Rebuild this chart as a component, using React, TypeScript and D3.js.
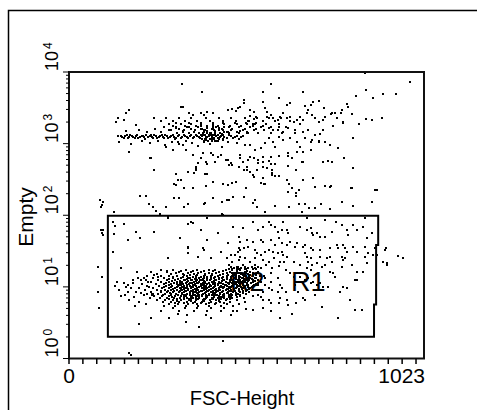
import React from "react";
import * as d3 from "d3";

// FSC-Height channel (0-1023) and "Empty" log channel (0-1023, 256 channels per decade)
const upperStreak: [number, number][] = [
  [149,795],[158,788],[167,799],[172,792],[181,795],[190,788],[195,799],[204,792],[213,795],[218,784],[227,792],[236,799],[241,788],[250,795],[259,792],[267,799],[273,788],[282,795],[290,792],[299,799],[305,784],[313,795],[322,788],[331,799],[339,792],[348,795],[356,788],[365,799],[374,792],[382,795],[391,784],[399,792],[408,799],[417,788],[425,795],[434,792],[443,799],[454,788],[466,795],[477,792],[489,784],[500,795],
  [153,792],[162,795],[170,788],[176,799],[185,792],[193,795],[200,788],[209,795],[216,792],[222,799],[232,795],[239,792],[245,799],[255,788],[263,795],[270,792],[278,799],[286,788],[295,795],[302,792],[309,788],[318,799],[327,792],[335,795],[344,788],[352,799],[361,792],[369,795],[378,788],[387,799],[395,792],[404,795],[412,792],[421,799],[430,788],[439,795],[448,792],[460,799],[472,788],[483,795],[495,792],
];

const upperAround: [number, number][] = [
  [144,774],[164,813],[178,767],[201,816],[210,777],[224,809],[233,770],[247,820],[256,777],[264,809],[276,763],[287,816],[296,774],[308,824],[316,767],[328,813],[336,777],[345,827],[354,770],[362,816],[371,759],[379,820],[388,774],[397,813],[405,767],[414,824],[422,777],[431,816],[440,756],[448,809],[457,774],[471,820],[483,770],[494,813],[506,763],[517,806],
  [379,831],[388,816],[397,824],[405,806],[414,831],[422,813],[431,824],[440,802],[448,827],[457,809],[394,781],[411,784],[428,777],[445,781],[523,866],[532,856],[520,849],[540,863],[529,838],
];

const upperCloudRows: [number, number[]][] = [
  [859,[279,316,351,394,431,468,506,543,575,612]],
  [849,[264,299,333,368,405,443,480,517,558,595,638]],
  [843,[308,345,379,414,445,477,509,540]],
  [838,[287,322,351,379,414,448,483,512,537,569,604,667]],
  [832,[299,333,365,397,428,463,497,529,560]],
  [827,[273,308,339,371,399,425,460,491,523,552,583,624]],
  [821,[316,351,382,411,440,471,506,540]],
  [816,[293,331,362,391,417,443,468,500,532,563,601,650]],
  [811,[328,359,388,422,454,483,514]],
  [806,[310,345,376,408,434,460,489,514,546,581,615]],
  [805,[386,398,410,422,434]],
  [800,[380,392,404,416,428,440]],
  [786,[383,395,407,419,431,443]],
  [779,[389,401,413,425]],
];

const upperRight: [number, number][] = [
  [606,930],[627,906],[638,913],[681,902],[696,906],[704,916],[719,920],[736,895],[756,873],[767,877],[773,859],[790,841],[762,831],[787,888],[785,877],[802,909],[805,898],[816,873],[856,856],[874,852],[902,859],[836,838],[877,930],[905,945],[943,945],[828,938],[856,959],[673,952],[583,980],[854,1020],[983,988],
  [572,863],[581,870],[589,859],[601,852],[609,863],[618,877],[629,859],[638,863],[647,845],[658,852],[667,863],[675,852],[687,877],[690,888],[701,870],[710,859],[719,845],[733,852],[739,863],[759,877],[790,845],
  [575,824],[589,816],[604,827],[618,809],[632,824],[652,806],[673,809],[690,816],[710,799],[733,816],
  [575,788],[589,774],[604,792],[618,781],[638,788],[658,774],[681,788],[701,781],[719,774],
];

const upperOutliers: [number, number][] = [
  [325,980],[382,952],[560,952],[172,888],[164,877],[328,898],[503,923],[503,913],[560,916],[141,859],[135,845],[158,852],[193,834],[141,795],[172,738],[233,717],[244,674],
  [244,859],[322,898],[345,877],[356,870],[379,877],[388,870],[399,881],[414,877],[457,888],[471,891],[480,884],[486,895],[494,898],[523,888],[532,881],[566,895],[572,881],
];

const midScatter: [number, number][] = [
  [379,717],[385,734],[414,727],[428,720],[437,727],[394,702],[399,695],[451,710],[460,692],[466,699],[494,717],[500,702],[489,685],[517,710],[523,720],[503,674],[514,674],[523,667],[529,656],[532,649],[546,710],[558,702],[560,685],[391,660],[394,617],[414,631],[443,624],[457,620],[471,628],[440,560],[454,567],[474,578],[503,578],[391,556],[529,556],[537,567],[543,542],[566,524],
  [308,660],[313,638],[322,638],[302,624],[308,620],[342,667],[359,663],[365,685],[365,674],[397,660],[331,610],[356,610],[480,631],[543,674],[509,610],[552,628],[560,645],[563,624],[204,581],[221,581],[230,553],[241,542],[250,528],[262,517],[279,542],[302,574],[316,574],[331,542],[342,553],[388,553],[414,574],[460,567],[440,517],[285,503],[129,524],[98,560],[92,542],
  [581,695],[595,695],[586,674],[586,663],[586,656],[595,652],[606,652],[632,688],[655,674],[670,702],[733,702],[747,706],[759,702],[819,681],[629,638],[635,624],[644,610],[632,595],[655,592],[655,581],[664,603],[675,638],[704,645],[739,617],[756,617],[813,610],[882,603],[566,624],[595,546],[635,542],[664,553],[681,553],[693,538],[710,538],[727,553],[670,524],[787,560],[819,546],[874,560],
  [776,752],[793,717],[816,610],[888,603],[753,613],[710,613],[753,535],[89,567],[95,549],
  [658,738],[675,738],[673,702],[632,734],[632,724],[644,717],[595,756],[606,724],[575,706],[581,720],[724,802],[719,777],[698,774],[819,788],
  [279,756],[299,745],[336,745],[356,727],[371,699],[365,681],[408,734],[422,702],[457,710],[471,692],[494,727],[514,685],[532,717],[546,699],[560,720],[572,681],[236,717],[313,774],[328,763],
  [523,763],[552,752],[566,770],[537,745],[739,774],[667,756],[696,745],[753,763],
];

const lowerCoreRows: [number, number[]][] = [
  [328,[466,486,506,526,546]],
  [324,[476,496,516,536]],
  [321,[460,483,506,529]],
  [320,[470,490,510,530,540]],
  [317,[264,299,336,368,402,420,451,471,494]],
  [314,[282,322,356,388,414,443,483,512]],
  [310,[236,282,316,351,379,431,463,483,506,523]],
  [307,[308,342,371,402,425,454,491,529]],
  [306,[470,490,510,530]],
  [303,[253,293,328,359,391,411,443,474,497,517]],
  [300,[480,500,520,540]],
  [299,[330,350,370,392,413,435,457,478,500,522,540]],
  [296,[224,264,287,310,339,365,388,408,428,454,480,503,529]],
  [294,[470,490,510,530,550]],
  [292,[256,299,328,356,379,399,420,443,466,494,520]],
  [289,[241,273,299,322,348,374,397,417,440,466,489,512,537]],
  [288,[480,500,520,540]],
  [287,[322,344,366,388,410,432,455,477,499,521]],
  [285,[287,313,339,362,385,408,431,454,480,503,526]],
  [282,[221,256,282,305,331,351,368,382,405,425,448,471,494,520,546]],
  [280,[333,355,377,399,421,443,465,487,509,531]],
  [278,[296,319,342,365,388,417,440,474,500,517,535]],
  [275,[236,264,287,310,325,339,359,376,391,411,431,451,463,483,506,529]],
  [271,[279,302,319,336,354,371,385,402,422,437,457,471,491,514]],
  [269,[326,348,370,392,414,436,458,480,502,524,545]],
  [267,[210,250,273,293,310,328,345,362,379,397,414,428,443,460,477,494,514,540]],
  [264,[287,322,356,388,420,451,483,500,514,532,546]],
  [262,[318,340,362,384,406,428,450,472,494,516,538]],
  [260,[224,259,279,296,313,331,348,365,379,394,408,422,437,454,471,489,506,529]],
  [257,[273,293,310,325,339,356,374,388,402,417,434,448,466,483,497,517]],
  [255,[330,352,374,396,418,440,462,484,506,528]],
  [253,[241,267,287,305,319,336,351,368,382,399,414,431,445,463,480,500,523]],
  [250,[299,331,362,394,425,457,489]],
  [248,[322,344,366,388,410,432,454,476,498,520]],
  [246,[218,253,276,293,310,325,342,356,371,388,402,420,434,451,468,489,512,537]],
  [243,[264,285,302,319,336,351,365,382,397,414,428,443,460,477,500]],
  [241,[335,357,379,401,423,445,467,489,511]],
  [239,[236,264,282,299,316,331,348,362,376,394,408,425,440,457,474,494,520]],
  [235,[290,325,356,391,422,454]],
  [234,[326,348,370,392,414,436,458,480,502]],
  [232,[224,256,276,293,308,325,339,356,371,385,402,417,434,448,466,486,509]],
  [228,[270,293,313,331,348,362,376,394,411,425,443,460,480]],
  [227,[338,360,382,404,426,448,470,492]],
  [225,[244,267,287,305,322,336,354,368,382,399,417,431,448,468,494,529]],
  [221,[296,331,365,397,434,466]],
  [219,[330,352,374,396,418,440,462,484]],
  [217,[233,262,282,302,319,339,356,374,394,411,428,448,471,503]],
  [214,[287,310,331,351,371,391,414,437,463]],
  [212,[345,367,389,411,433,455]],
  [210,[253,276,299,322,345,365,385,405,425,451,483]],
  [207,[310,351,388,431]],
  [203,[270,293,316,339,362,382,408,434,463,506]],
  [200,[305,331,356,379,402,425,448]],
  [196,[287,313,342,368,394,420,454,489]],
  [189,[273,305,336,371,402,437,474]],
  [182,[299,333,368,408,448]],
  [171,[316,359,399,437,483]],
  [157,[339,394,466]],
];

const lowerScatter: [number, number][] = [
  [158,271],[164,257],[170,264],[178,253],[184,271],[193,239],[201,253],[207,235],[216,228],[184,282],[198,289],[207,282],[216,289],[227,275],[230,257],[239,232],[241,228],[239,228],[241,232],[161,228],[170,239],[195,310],[244,299],[221,196],[313,160],[201,125],[336,132],[374,111],[172,21],[443,61],[285,360],[342,396],[385,396],[388,389],[319,431],[244,453],[193,453],[204,431],[170,424],[129,446],[126,382],[98,460],[95,449],[83,328],[95,292],[83,239],[86,182],[92,460],[98,442],[178,14],
  [144,246],[149,225],[132,260],[172,210],[187,221],[201,203],[138,275],[190,189],[264,168],[287,146],[408,146],[474,168],[509,178],[236,146],[149,324],
  [126,488],[132,474],[158,481],[285,506],[342,481],[356,485],[443,513],[342,399],
  [379,460],[399,424],[428,449],[457,414],[474,471],[489,396],[437,382],[408,360],[371,364],[342,378],[494,364],[351,488],[399,503],
];

const lowerTail: [number, number][] = [
  [529,488],[575,488],[581,478],[618,488],[500,467],[546,460],[558,471],[595,471],[601,453],[615,460],[629,460],[632,449],[667,471],[687,460],[696,467],[701,449],[704,442],[716,449],[724,435],[739,435],[759,453],[770,488],[787,478],[802,460],[805,442],[819,478],[831,460],[848,471],[854,503],[859,431],[874,449],[739,496],[687,503],
  [489,435],[494,417],[514,424],[529,417],[552,424],[560,417],[581,424],[595,406],[604,431],[615,414],[629,406],[638,417],[652,399],[658,414],[673,399],[681,406],[696,396],[704,389],[724,389],[753,396],[773,406],[776,396],[790,406],[796,396],[802,382],[819,399],[831,382],[854,399],[862,378],[882,396],[888,371],
  [466,371],[486,382],[503,396],[517,399],[537,389],[543,378],[552,371],[566,382],[575,389],[589,382],[601,378],[615,382],[618,371],[629,364],
  [471,346],[489,353],[506,360],[523,346],[537,360],[558,353],[575,346],[592,360],[609,346],[483,328],[500,335],[517,324],[535,335],[552,324],[569,335],[586,324],[604,331],[621,346],[509,310],[529,299],[546,310],[563,296],[581,307],[601,289],[512,285],[460,335],[454,360],[477,371],[494,389],
];

const lowerRight: [number, number][] = [
  [681,378],[687,364],[696,360],[690,346],[724,364],[744,360],[753,364],[759,346],[787,364],[790,353],[796,360],[816,335],[831,310],[825,282],[854,364],[859,342],[787,328],[716,342],[730,328],[739,335],[647,346],[667,335],[687,324],[696,317],[701,335],[638,307],[647,292],[667,292],[681,282],[690,289],[696,271],[704,275],[716,264],[724,271],[733,257],[747,257],[767,292],[762,307],[753,310],[730,185],[644,160],[552,221],[560,210],[575,210],[581,200],[604,200],[609,217],[629,210],[632,193],[552,275],[566,264],[575,253],[586,246],[601,239],[609,264],[615,253],[624,239],[848,310],[831,282],[790,257],[802,253],
  [558,239],[546,228],[566,289],[581,275],[624,317],[652,264],[661,239],[673,217],[655,200],[710,228],[782,239],[810,210],[845,175],[558,182],[581,168],[529,175],[609,146],[776,146],[825,175],[681,210],
  [914,396],[917,342],[948,367],[963,360],[911,389],[905,346],[917,335],[877,371],
];

// Gate R1 polygon (FSC channel, Empty log channel)
const gateR1: [number, number][] = [
  [112,510],[891,510],[891,406],[885,406],[885,193],[879,193],[879,78],[112,78],
];

const xTickStep = 40;
const xTickMax = 1000;
const xTickLabels: [number, string][] = [[0, "0"], [1023, "1023"]];
const yDecades = [0, 1, 2, 3, 4];
const yMinorMultipliers = [2, 3, 4, 5, 6, 7, 8, 9];
const xTitle = "FSC-Height";
const yTitle = "Empty";
const gateLabels = ["R2", "R1"];

const FONT = "'Liberation Sans', Arial, Helvetica, sans-serif";

export default function App() {
  const x = d3.scaleLinear().domain([0, 1023]).range([69, 424]);
  const y = d3.scaleLog().domain([1, 1e4]).range([358.5, 72]);
  const chVal = (ch: number) => Math.pow(10, ch / 256);

  const pts: [number, number][] = [
    ...upperStreak,
    ...upperAround,
    ...upperCloudRows.flatMap(([ch, xs]) => xs.map((f) => [f, ch] as [number, number])),
    ...upperRight,
    ...upperOutliers,
    ...midScatter,
    ...lowerCoreRows.flatMap(([ch, xs]) => xs.map((f) => [f, ch] as [number, number])),
    ...lowerScatter,
    ...lowerTail,
    ...lowerRight,
  ];

  const xTicks = d3.range(0, xTickMax + 1, xTickStep);
  const minorTicks = yDecades.slice(0, -1).flatMap((d) => yMinorMultipliers.map((m) => m * Math.pow(10, d)));

  const gatePath = d3.line<[number, number]>()
    .x((d) => x(d[0]))
    .y((d) => y(chVal(d[1])))
    .curve(d3.curveLinearClosed)(gateR1) as string;

  return (
    <svg width={477} height={410} style={{ position: "absolute", left: 0, top: 0, background: "#fff" }} fontFamily={FONT}>
      <path d="M8.5,412 L8.5,10.5 L480,10.5" fill="none" stroke="#000" strokeWidth={1.5} />

      <text x={230} y={291} fontSize={27} fill="#000">{gateLabels[0]}</text>

      <g shapeRendering="crispEdges">
        {pts.map((p, i) => (
          <rect key={i} x={Math.round(x(p[0])) - 1} y={Math.round(y(chVal(p[1]))) - 1} width={2} height={2} fill="#000" />
        ))}
      </g>

      <path d={gatePath} fill="none" stroke="#000" strokeWidth={2} />
      <text x={291} y={291} fontSize={27} fill="#000">{gateLabels[1]}</text>

      <rect x={69} y={72} width={355} height={286.5} fill="none" stroke="#111" strokeWidth={2} />

      <g stroke="#000" strokeWidth={1.5}>
        {xTicks.map((t) => (
          <line key={t} x1={x(t)} x2={x(t)} y1={358.5} y2={364} />
        ))}
      </g>
      {xTickLabels.map(([v, s]) => (
        <text key={s} x={v === 0 ? x(v) : 425} y={383} fontSize={21} textAnchor={v === 0 ? "middle" : "end"} fill="#000">{s}</text>
      ))}

      <g stroke="#000" strokeWidth={1}>
        {yDecades.map((d) => (
          <line key={"M" + d} x1={63} x2={69} y1={y(Math.pow(10, d))} y2={y(Math.pow(10, d))} />
        ))}
        {minorTicks.map((v) => (
          <line key={"m" + v} x1={66} x2={69} y1={y(v)} y2={y(v)} />
        ))}
      </g>
      {yDecades.map((d) => {
        const ty = y(Math.pow(10, d)) - 1;
        return (
          <text key={d} transform={`translate(58,${ty}) rotate(-90)`} fontSize={18} fill="#000">
            10<tspan dx={2} dy={-6} fontSize={12}>{d}</tspan>
          </text>
        );
      })}

      <text transform="translate(33,217) rotate(-90)" fontSize={21} textAnchor="middle" fill="#000">{yTitle}</text>
      <text x={242} y={405} fontSize={20} textAnchor="middle" fill="#000">{xTitle}</text>
    </svg>
  );
}
